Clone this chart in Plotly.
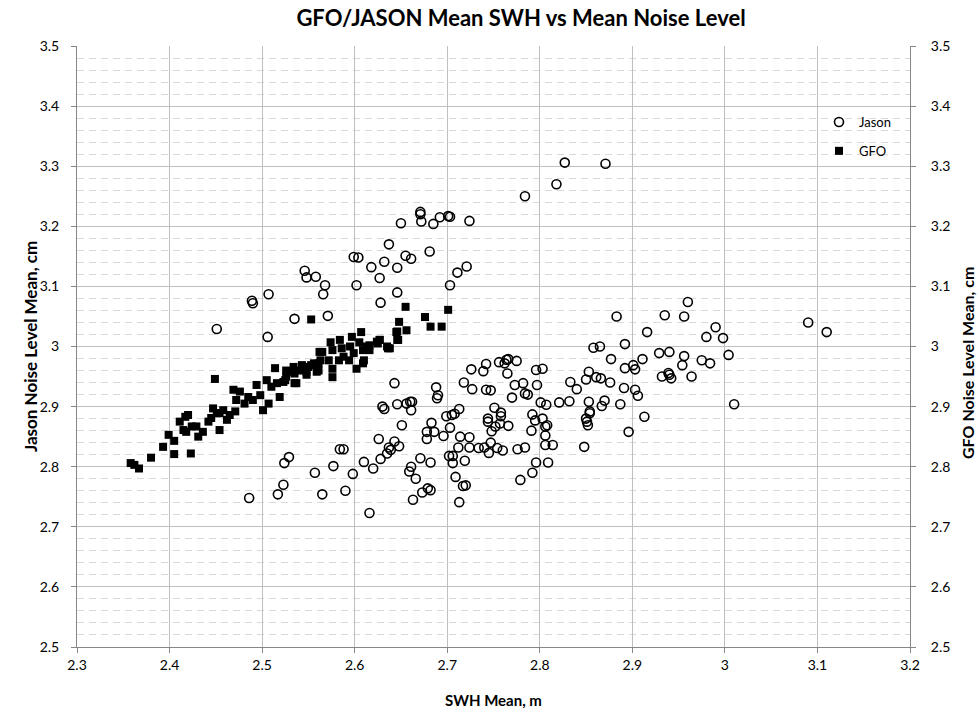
import plotly.graph_objects as go

# ---- data ----
jason_swh = [
    2.451, 2.489, 2.490, 2.507, 2.506, 2.535, 2.571, 2.546, 2.548, 2.558, 2.568, 2.566,
    2.599, 2.604, 2.602, 2.618, 2.632, 2.637, 2.627, 2.628, 2.646, 2.650, 2.655, 2.661,
    2.646, 2.671, 2.671, 2.672, 2.685, 2.692, 2.701, 2.703, 2.724, 2.681, 2.721, 2.711,
    2.703,
    2.827, 2.871, 2.818, 2.784,
    2.726, 2.739, 2.742, 2.756, 2.762, 2.764, 2.766, 2.775, 2.765, 2.796, 2.803,
    2.853, 2.643, 2.688, 2.690, 2.689, 2.718, 2.727, 2.742, 2.747, 2.773, 2.782, 2.797,
    2.770, 2.784, 2.787, 2.833, 2.840, 2.850, 2.861, 2.801, 2.807, 2.821, 2.832, 2.853,
    2.854, 2.630, 2.632, 2.646, 2.656, 2.660, 2.662, 2.661, 2.683, 2.651, 2.699, 2.705,
    2.708, 2.713, 2.678, 2.686, 2.678, 2.696, 2.703, 2.626, 2.643, 2.637, 2.639, 2.635,
    2.648, 2.628, 2.610, 2.620, 2.671, 2.682, 2.661, 2.659, 2.666, 2.673, 2.679, 2.682,
    2.663, 2.616, 2.713, 2.709, 2.717, 2.720, 2.714, 2.724, 2.712, 2.724, 2.702, 2.706,
    2.706, 2.719, 2.734, 2.740, 2.747, 2.745, 2.754, 2.760, 2.744, 2.744, 2.751, 2.752,
    2.748, 2.758, 2.758, 2.757, 2.766, 2.776, 2.784, 2.779, 2.792, 2.796, 2.809, 2.792,
    2.795, 2.791, 2.803, 2.806, 2.808, 2.806, 2.806, 2.814, 2.848, 2.850, 2.851, 2.852,
    2.854,
    2.486, 2.517, 2.523, 2.524, 2.529, 2.557, 2.565, 2.577, 2.584, 2.588, 2.590, 2.598,
    2.883, 2.935, 2.960, 2.956, 2.916, 2.990, 2.980, 2.998, 3.090, 3.110, 2.858, 2.865,
    2.892, 2.877, 2.892, 2.901, 2.903, 2.911, 2.929, 2.940, 2.956, 2.954, 2.975, 2.984,
    3.004, 2.939, 2.940, 2.942, 2.932, 2.964, 2.866, 2.876, 2.891, 2.903, 2.906, 2.887,
    2.870, 2.867, 2.913, 2.896, 3.010,
]
jason_noise = [
    3.029, 3.076, 3.072, 3.087, 3.016, 3.046, 3.051, 3.126, 3.115, 3.116, 3.102, 3.087,
    3.149, 3.148, 3.102, 3.132, 3.141, 3.170, 3.114, 3.073, 3.131, 3.205, 3.151, 3.146,
    3.090, 3.224, 3.220, 3.208, 3.204, 3.215, 3.217, 3.216, 3.209, 3.158, 3.133, 3.123,
    3.102,
    3.306, 3.304, 3.270, 3.250,
    2.962, 2.959, 2.971, 2.974, 2.972, 2.978, 2.979, 2.976, 2.955, 2.961, 2.963,
    2.958, 2.939, 2.932, 2.919, 2.914, 2.940, 2.929, 2.928, 2.927, 2.936, 2.939, 2.936,
    2.915, 2.922, 2.920, 2.941, 2.929, 2.945, 2.949, 2.907, 2.903, 2.907, 2.909, 2.908,
    2.892, 2.900, 2.896, 2.904, 2.905, 2.908, 2.908, 2.894, 2.873, 2.869, 2.884, 2.886,
    2.888, 2.896, 2.858, 2.858, 2.846, 2.851, 2.865, 2.846, 2.842, 2.832, 2.828, 2.822,
    2.834, 2.813, 2.808, 2.797, 2.814, 2.807, 2.800, 2.792, 2.780, 2.757, 2.764, 2.761,
    2.745, 2.723, 2.741, 2.783, 2.768, 2.769, 2.850, 2.849, 2.832, 2.832, 2.818, 2.818,
    2.806, 2.810, 2.831, 2.832, 2.840, 2.823, 2.831, 2.827, 2.880, 2.875, 2.898, 2.867,
    2.859, 2.890, 2.884, 2.872, 2.868, 2.829, 2.832, 2.778, 2.790, 2.807, 2.807, 2.887,
    2.877, 2.860, 2.880, 2.867, 2.869, 2.852, 2.836, 2.836, 2.833, 2.880, 2.875, 2.869,
    2.889,
    2.748, 2.754, 2.770, 2.806, 2.816, 2.790, 2.754, 2.801, 2.829, 2.829, 2.760, 2.788,
    3.050, 3.052, 3.074, 3.050, 3.024, 3.032, 3.016, 3.014, 3.040, 3.024, 2.998, 3.000,
    3.004, 2.979, 2.964, 2.969, 2.962, 2.979, 2.989, 2.991, 2.984, 2.969, 2.977, 2.972,
    2.986, 2.956, 2.953, 2.947, 2.950, 2.950, 2.947, 2.940, 2.931, 2.928, 2.918, 2.904,
    2.910, 2.901, 2.883, 2.858, 2.904,
]

gfo_swh = [
    2.358, 2.362, 2.367, 2.380, 2.393, 2.399, 2.405, 2.405, 2.423, 2.449, 2.553,
    2.411, 2.417, 2.420, 2.424, 2.415, 2.418, 2.429, 2.431, 2.436, 2.442, 2.447, 2.451,
    2.445, 2.454, 2.454, 2.462, 2.458, 2.465, 2.471, 2.469, 2.476, 2.472, 2.481, 2.485,
    2.490, 2.494, 2.498, 2.501, 2.507, 2.505, 2.514, 2.510, 2.519, 2.516, 2.523, 2.526,
    2.530, 2.534, 2.535, 2.543, 2.546, 2.548, 2.553, 2.559, 2.561, 2.562,
    2.645, 2.647, 2.638, 2.635, 2.627, 2.625, 2.616, 2.613, 2.607, 2.605, 2.609, 2.610,
    2.602, 2.609, 2.597, 2.595, 2.599, 2.594, 2.584, 2.586, 2.588, 2.583, 2.574, 2.576,
    2.572, 2.576, 2.576, 2.565, 2.563, 2.561, 2.556, 2.550, 2.548, 2.541, 2.535, 2.537,
    2.526, 2.525,
    2.655, 2.701, 2.648, 2.676, 2.682, 2.694, 2.656, 2.646, 2.646, 2.627, 2.624, 2.636,
    2.616,
]
gfo_noise = [
    2.806, 2.803, 2.797, 2.815, 2.833, 2.853, 2.843, 2.821, 2.822, 2.946, 3.045,
    2.875, 2.883, 2.886, 2.867, 2.861, 2.858, 2.867, 2.850, 2.858, 2.875, 2.897, 2.889,
    2.881, 2.889, 2.861, 2.878, 2.894, 2.886, 2.892, 2.928, 2.925, 2.911, 2.905, 2.916,
    2.911, 2.936, 2.919, 2.894, 2.905, 2.944, 2.964, 2.933, 2.916, 2.939, 2.941, 2.950,
    2.958, 2.966, 2.939, 2.969, 2.966, 2.958, 2.969, 2.958, 2.972, 2.991,
    3.024, 3.011, 2.997, 3.000, 3.011, 3.005, 3.002, 3.000, 3.024, 3.007, 2.994, 2.977,
    2.963, 2.972, 3.016, 3.000, 2.989, 2.977, 3.011, 2.997, 2.983, 2.977, 3.007, 2.994,
    2.977, 2.963, 2.949, 2.991, 2.977, 2.960, 2.972, 2.966, 2.953, 2.960, 2.955, 2.939,
    2.960, 2.944,
    3.066, 3.061, 3.041, 3.049, 3.033, 3.033, 3.027, 3.025, 3.011, 3.011, 3.008, 2.997,
    2.994,
]

title_text = "GFO/JASON Mean SWH vs Mean Noise Level"
x_title = "SWH Mean, m"
y_title = "Jason Noise Level Mean, cm"
y2_title = "GFO Noise Level Mean, cm"

FONT = "Lato, 'Open Sans', sans-serif"
AXIS_COLOR = "#868686"
GRID_COLOR = "#bfbfbf"
MINOR_COLOR = "#d9d9d9"

W, H = 979, 717
ML, MR, MT, MB = 77, 69, 46, 70
PW, PH = W - ML - MR, H - MT - MB

fig = go.Figure()
fig.add_trace(go.Scatter(
    x=jason_swh, y=jason_noise, mode="markers", name="Jason",
    legendgroup="a",
    marker=dict(symbol="circle-open", size=9, color="black", line=dict(width=1.6, color="black")),
))
fig.add_trace(go.Scatter(
    x=gfo_swh, y=gfo_noise, mode="markers", name="GFO", yaxis="y2",
    legendgroup="b",
    marker=dict(symbol="square", size=8, color="black", line=dict(width=0)),
))

axis_common = dict(
    showline=True, linecolor=AXIS_COLOR, linewidth=1,
    ticks="outside", ticklen=5, tickcolor=AXIS_COLOR, tickwidth=1,
    tickfont=dict(size=14, family=FONT, color="#000000"), zeroline=False,
    automargin=False,
)

fig.update_layout(
    template="none",
    width=W, height=H,
    margin=dict(l=ML, r=MR, t=MT, b=MB, pad=0, autoexpand=False),
    paper_bgcolor="white", plot_bgcolor="white",
    font=dict(family=FONT, size=12, color="#000000"),
    title=dict(text="<b>" + title_text + "</b>", x=521 / W, xref="container",
               xanchor="center", y=1 - 18 / H, yref="container", yanchor="middle",
               font=dict(size=22, family=FONT, color="#000000")),
    showlegend=True,
    legend=dict(x=(819 - ML) / PW, y=1 - (107 - MT) / PH, xanchor="left", yanchor="top",
                bgcolor="rgba(0,0,0,0)", borderwidth=0,
                font=dict(size=13, family=FONT, color="#000000"),
                tracegroupgap=9, itemwidth=30),
    xaxis=dict(
        range=[2.3, 3.2], dtick=0.1, tick0=2.3,
        showgrid=True, gridcolor=GRID_COLOR, gridwidth=1,
        **axis_common,
    ),
    yaxis=dict(
        range=[2.5, 3.5], dtick=0.1, tick0=2.5,
        showgrid=True, gridcolor=GRID_COLOR, gridwidth=1,
        minor=dict(dtick=0.02, showgrid=True, gridcolor=MINOR_COLOR, griddash="7px,5px",
                   gridwidth=1, ticks=""),
        ticklabelstandoff=9,
        **axis_common,
    ),
    yaxis2=dict(
        range=[2.5, 3.5], dtick=0.1, tick0=2.5, overlaying="y", side="right",
        showgrid=False, ticklabelstandoff=12,
        **axis_common,
    ),
)

# axis titles placed as annotations (bold)
fig.add_annotation(text="<b>" + x_title + "</b>", xref="paper", yref="paper",
                   x=(493 - ML) / PW, y=-(700 - (MT + PH)) / PH,
                   xanchor="center", yanchor="middle", showarrow=False,
                   font=dict(size=15, family=FONT, color="#000000"))
fig.add_annotation(text="<b>" + y_title + "</b>", xref="paper", yref="paper",
                   x=(30 - ML) / PW, y=1 - (347 - MT) / PH, textangle=-90,
                   xanchor="center", yanchor="middle", showarrow=False,
                   font=dict(size=17, family=FONT, color="#000000"))
fig.add_annotation(text="<b>" + y2_title + "</b>", xref="paper", yref="paper",
                   x=(967 - ML) / PW, y=1 - (363 - MT) / PH, textangle=-90,
                   xanchor="center", yanchor="middle", showarrow=False,
                   font=dict(size=16, family=FONT, color="#000000"))

fig.write_html("out.html", config={"displayModeBar": False},
               post_script="document.body.style.margin='0px';")
